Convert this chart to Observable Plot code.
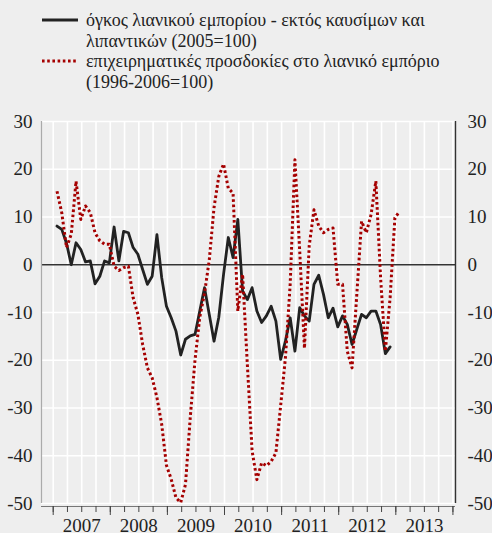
<!DOCTYPE html>
<html><head><meta charset="utf-8">
<script src="https://cdn.jsdelivr.net/npm/d3@7"></script>
<script src="https://cdn.jsdelivr.net/npm/@observablehq/plot@0.6"></script>
<style>
body{margin:0;background:#eeeeee;font-family:"Liberation Serif","Times New Roman",serif;}
#legend{position:relative;height:100px;width:492px;font-size:18px;color:#222;}
.sw{position:absolute;left:42px;}
.lt{position:absolute;left:86px;line-height:20.5px;white-space:nowrap;}
#chart svg{display:block;}
</style></head><body>
<div id="legend"></div>
<div id="chart"></div>
<script>
// categories: monthly, starting January 2007
const startMonth = "2007-01";
const years = ["2007", "2008", "2009", "2010", "2011", "2012", "2013"];
const yTicks = [30, 20, 10, 0, -10, -20, -30, -40, -50];
const seriesNames = [
  ["όγκος λιανικού εμπορίου - εκτός καυσίμων και", "λιπαντικών (2005=100)"],
  ["επιχειρηματικές προσδοκίες στο λιανικό εμπόριο", "(1996-2006=100)"]
];
// retail trade volume (Jan 2007 – Nov 2012)
const volume = [8.1, 7.4, 4.5, 0, 4.6, 3.2, 0.6, 0.8, -4.0, -2.4,
  0.8, 0.4, 7.9, 0.8, 7.0, 6.7, 3.6, 2.2, -1.0, -4.1,
  -2.4, 6.3, -2.7, -8.7, -11.1, -13.9, -18.9, -15.6, -14.9, -14.6,
  -9.7, -4.8, -10.4, -16.0, -11.0, -2.0, 5.7, 1.5, 9.5, -5.5,
  -7.3, -4.8, -9.7, -12.1, -10.7, -8.7, -11.8, -19.8, -16.0, -11.1,
  -18.1, -9.0, -10.7, -11.8, -4.1, -2.2, -6.2, -11.1, -9.1, -13.0,
  -10.7, -12.5, -16.7, -13.5, -10.4, -11.1, -9.7, -9.7, -12.5, -18.6, -17.2];
// business expectations in retail trade (Jan 2007 – Jan 2013)
const expectations = [15.4, 10.9, 3.6, 6.4, 17.5, 9.5, 12.3, 10.9, 6.7, 5.0,
  4.3, 4.3, -0.3, -1.2, -0.6, -0.3, -6.9, -10.4, -16.7, -21.6,
  -23.7, -27.8, -33.4, -42, -44.9, -48.8, -49.8, -46, -32, -20,
  -11, -6, 1, 12, 18.5, 21.1, 16, 15, -9.7, -2,
  -20.9, -39, -45, -41.5, -42.1, -41.2, -39.4, -29.5, -19.5, -4.1,
  22, 2.9, -17.5, 4, 11.5, 8.1, 6.7, 7.4, 7.7, -4.1,
  -4.1, -18.1, -21.6, -6.2, 9.1, 6.7, 10.5, 17.5, -2.7, -18.1,
  -6.9, 9.8, 11.2];

const colors = ["#222222", "#a50000"];
const dotted = "2.6,2.6";

// legend
const legend = document.getElementById("legend");
seriesNames.forEach((lines, k) => {
  const top = 10 + k * 41;
  const sw = document.createElementNS("http://www.w3.org/2000/svg", "svg");
  sw.setAttribute("class", "sw");
  sw.setAttribute("width", 36); sw.setAttribute("height", 6);
  sw.style.top = (top + 7) + "px";
  const ln = document.createElementNS("http://www.w3.org/2000/svg", "line");
  ln.setAttribute("x1", 0); ln.setAttribute("x2", 36);
  ln.setAttribute("y1", 3); ln.setAttribute("y2", 3);
  ln.setAttribute("stroke", colors[k]);
  ln.setAttribute("stroke-width", 3);
  if (k === 1) ln.setAttribute("stroke-dasharray", dotted);
  sw.appendChild(ln);
  legend.appendChild(sw);
  const t = document.createElement("div");
  t.className = "lt";
  t.style.top = top + "px";
  t.innerHTML = lines.join("<br>");
  legend.appendChild(t);
});

const volData = volume.map((v, i) => ({i, v}));
const expData = expectations.map((v, i) => ({i, v}));

// x positions are month indices (0 = Jan 2007)
const xDomain = [-3.256, 83.74];
const quarterTicks = d3.range(29).map(k => -0.8 + 3 * k);
const yearBounds = d3.range(8).map(k => -0.8 + 12 * k);
const yearPos = years.map((y, k) => 5.2 + 12 * k);

const chart = Plot.plot({
  width: 492, height: 433,
  marginLeft: 41, marginRight: 37, marginTop: 21, marginBottom: 30,
  style: {background: "transparent", fontFamily: "Liberation Serif, Times New Roman, serif", fontSize: "19px", color: "#222", overflow: "visible"},
  x: {domain: xDomain, axis: null, label: null},
  y: {domain: [-50, 30], axis: null, label: null},
  marks: [
    Plot.gridY(yTicks, {stroke: "#ffffff", strokeOpacity: 1, strokeWidth: 1.6}),
    Plot.gridX(quarterTicks, {stroke: "#ffffff", strokeOpacity: 1, strokeWidth: 1.6}),
    Plot.ruleY([0], {stroke: "#333", strokeWidth: 1.6}),
    Plot.line(volData, {x: "i", y: "v", stroke: colors[0], strokeWidth: 2.8, strokeLinejoin: "round"}),
    Plot.line(expData, {x: "i", y: "v", stroke: colors[1], strokeWidth: 3, strokeDasharray: dotted, strokeLinecap: "butt"}),
    Plot.ruleX([xDomain[0]], {stroke: "#aaaaaa", strokeWidth: 1.2}),
    Plot.ruleX([xDomain[1]], {stroke: "#333333", strokeWidth: 1.4}),
    Plot.ruleY([-50], {dy: 3, stroke: "#777", strokeWidth: 1}),
    Plot.axisX(quarterTicks, {anchor: "bottom", label: null, tickSize: 6, dy: 3, tickFormat: () => "", stroke: "#444"}),
    Plot.axisX(yearBounds, {anchor: "bottom", label: null, tickSize: 9, dy: 3, tickFormat: () => "", stroke: "#444"}),
    Plot.axisY(yTicks, {anchor: "left", label: null, tickSize: 0, tickPadding: 9, tickFormat: d => String(d), fill: "#222"}),
    Plot.axisY(yTicks, {anchor: "right", label: null, tickSize: 0, tickPadding: 12, tickFormat: d => String(d), fill: "#222"}),
    Plot.axisX(yearPos, {anchor: "bottom", label: null, tickSize: 0, tickPadding: 15, tickFormat: d => years[Math.round((d - 5.2) / 12)], fill: "#222"})
  ]
});
document.getElementById("chart").appendChild(chart);
</script>
</body></html>
